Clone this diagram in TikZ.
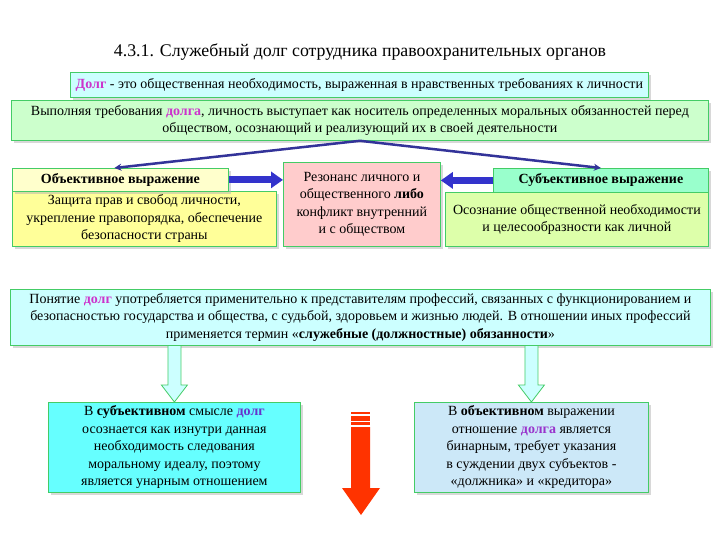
\documentclass[tikz,border=0pt]{standalone}
\usepackage{fontspec}
\setmainfont{Liberation Serif}
\usetikzlibrary{arrows.meta,shadows,calc}
\definecolor{bgreen}{HTML}{44CC66}
\definecolor{dolgc}{HTML}{CC33CC}
\definecolor{dolgb}{HTML}{6633CC}
\definecolor{dolgp}{HTML}{9933CC}
\definecolor{cdef}{HTML}{CCFFFF}
\definecolor{cmain}{HTML}{CCFFCC}
\definecolor{clhead}{HTML}{FFFFCC}
\definecolor{clbody}{HTML}{FFFF99}
\definecolor{cmid}{HTML}{FFCCCC}
\definecolor{crhead}{HTML}{99FFCC}
\definecolor{crbody}{HTML}{DDFFAA}
\definecolor{cnote}{HTML}{CCFFFF}
\definecolor{cleft}{HTML}{66FFFF}
\definecolor{cright}{HTML}{CCE8F8}
\definecolor{darkblue}{HTML}{333399}
\definecolor{midblue}{HTML}{3333CC}
\definecolor{redarr}{HTML}{FF3300}
\definecolor{hollowfill}{HTML}{CCFFFF}
\begin{document}
\begin{tikzpicture}[x=1pt,y=-1pt,
  box/.style={draw=bgreen, line width=0.8pt, anchor=north west, inner sep=1pt, align=center,
    drop shadow={shadow xshift=2.5pt, shadow yshift=-2.5pt, fill=black!30},
    font=\fontsize{14}{17.5}\selectfont},
  thinblue/.style={draw=darkblue, line width=2.5pt, -{Stealth[length=7pt,width=7pt]}},
  thickblue/.style={draw=midblue, line width=7pt, -{Triangle[length=12pt,width=16pt]}},
  hollowarr/.style={draw=bgreen, fill=hollowfill, line width=0.8pt, line join=miter},
]
\useasboundingbox (0,0) rectangle (720,540);
\fill[white] (0,0) rectangle (720,540);

\node[font=\fontsize{17.8}{20}\selectfont] (title) at (360,52) {4.3.1. Служебный долг сотрудника правоохранительных органов};

\node[box, fill=cdef, minimum width=578pt, minimum height=25pt] (def) at (70,72)
  {\textcolor{dolgc}{\textbf{Долг}} - это общественная необходимость, выраженная в нравственных требованиях к личности};

\node[box, fill=cmain, minimum width=697pt, minimum height=40pt] (main) at (11,100)
  {Выполняя требования \textcolor{dolgc}{\textbf{долга}}, личность выступает как носитель определенных моральных обязанностей перед\\ обществом, осознающий и реализующий их в своей деятельности};

\node[box, fill=clbody, minimum width=264pt, minimum height=55pt] (lbody) at (12,191)
  {Защита прав и свобод личности,\\ укрепление правопорядка, обеспечение\\ безопасности страны};
\node[box, fill=clhead, minimum width=216pt, minimum height=23pt] (lhead) at (12,168)
  {\textbf{Объективное выражение}};

\node[box, fill=cmid, minimum width=157pt, minimum height=84pt] (mid) at (283,162)
  {Резонанс личного и\\ общественного \textbf{либо}\\ конфликт внутренний\\ и с обществом};

\node[box, fill=crhead, minimum width=215pt, minimum height=24pt] (rhead) at (493,168)
  {\textbf{Субъективное выражение}};
\node[box, fill=crbody, minimum width=263pt, minimum height=54pt] (rbody) at (445,192)
  {Осознание общественной необходимости\\ и целесообразности как личной};

\node[box, fill=cnote, minimum width=700pt, minimum height=56pt] (note) at (10,289)
  {Понятие \textcolor{dolgc}{\textbf{долг}} употребляется применительно к представителям профессий, связанных с функционированием и\\ безопасностью государства и общества, с судьбой, здоровьем и жизнью людей. В отношении иных профессий\\ применяется термин «\textbf{служебные (должностные) обязанности}»};

\node[box, fill=cleft, minimum width=252pt, minimum height=90pt] (subj) at (48,402)
  {В \textbf{субъективном} смысле \textcolor{dolgb}{\textbf{долг}}\\ осознается как изнутри данная\\ необходимость следования\\ моральному идеалу, поэтому\\ является унарным отношением};

\node[box, fill=cright, minimum width=234pt, minimum height=90pt] (obj) at (414,402)
  {В \textbf{объективном} выражении\\ отношение \textcolor{dolgp}{\textbf{долга}} является\\ бинарным, требует указания\\ в суждении двух субъектов -\\ «должника» и «кредитора»};

% thin blue connectors
\draw[thinblue] (main.south) -- ($(lhead.north)+(-6,0)$);
\draw[thinblue] (main.south) -- (rhead.north);

% thick blue arrows
\draw[thickblue] (lhead.east) -- (lhead.east -| mid.west);
\draw[thickblue] (rhead.west) -- (rhead.west -| mid.east);

% hollow arrows
\draw[hollowarr] (subj.north) -- ++(-13,-17) -- ++(6.5,0) -- ++(0,-39.5) -- ++(13,0) -- ++(0,39.5) -- ++(6.5,0) -- cycle;
\draw[hollowarr] (obj.north) -- ++(-13,-17) -- ++(6.5,0) -- ++(0,-39.5) -- ++(13,0) -- ++(0,39.5) -- ++(6.5,0) -- cycle;

% red arrow
\fill[redarr] (351,411.5) rectangle (370,414);
\fill[redarr] (351,416) rectangle (370,420.5);
\fill[redarr] (351,422) rectangle (370,425);
\fill[redarr] (351,427) -- (370,427) -- (370,488) -- (380,488) -- (361,515) -- (342,488) -- (351,488) -- cycle;
\end{tikzpicture}
\end{document}
